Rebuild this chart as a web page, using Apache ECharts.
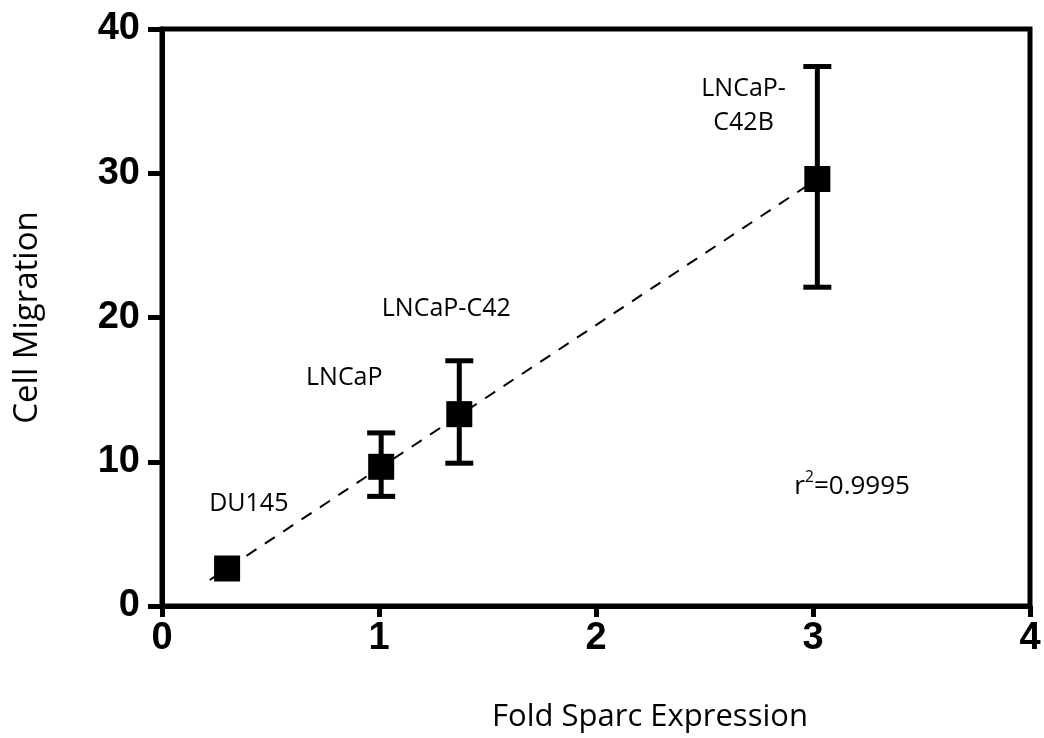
<!DOCTYPE html>
<html><head><meta charset="utf-8">
<script src="https://cdn.jsdelivr.net/npm/echarts@6/dist/echarts.min.js"></script>
<style>html,body{margin:0;padding:0;background:#fff}#c{width:1044px;height:738px}</style>
</head><body><div id="c"></div>
<script>
const names = ['DU145','LNCaP','LNCaP-C42','LNCaP-C42B'];
const foldSparc = [0.30, 1.01, 1.37, 3.02];
const migration = [2.6, 9.65, 13.3, 29.6];
const errLow = [null, 7.6, 9.9, 22.1];
const errHigh = [null, 12.0, 17.0, 37.4];
const fitX = [0.22, 3.02];
const fitY = [1.8, 29.6];
const labelText = ['DU145','LNCaP','LNCaP-C42','LNCaP-\nC42B','{r|r}{sup|2}{r|=0.9995}'];
const labelX = [0.40, 0.84, 1.31, 2.68, 3.18];
const labelY = [7.1, 15.8, 20.6, 34.7, 8.3];
const xTicks = [0,1,2,3,4];
const yTicks = [0,10,20,30,40];

const chart = echarts.init(document.getElementById('c'));
const tickFont = {fontFamily:'Liberation Sans', fontWeight:'bold', fontSize:38, color:'#000'};
chart.setOption({
  animation:false,
  grid:{left:162,right:14,top:29,bottom:132,containLabel:false,outerBoundsMode:'none',
    show:true,borderColor:'#000',borderWidth:5,backgroundColor:'transparent'},
  xAxis:{type:'value',min:0,max:4,interval:1,
    name:'Fold Sparc Expression',nameLocation:'middle',nameGap:96,
    nameTextStyle:{fontFamily:'Open Sans',fontSize:31,color:'#000',padding:[0,0,0,108]},
    axisLine:{lineStyle:{color:'#000',width:5}},
    axisTick:{length:11,lineStyle:{color:'#000',width:5}},
    axisLabel:Object.assign({margin:14},tickFont),
    splitLine:{show:false}},
  yAxis:{type:'value',min:0,max:40,interval:10,
    name:'Cell Migration',nameLocation:'middle',nameGap:118,
    nameTextStyle:{fontFamily:'Open Sans',fontSize:33,color:'#000'},
    axisLine:{lineStyle:{color:'#000',width:5}},
    axisTick:{length:14,lineStyle:{color:'#000',width:5}},
    axisLabel:Object.assign({margin:22},tickFont),
    splitLine:{show:false}},
  series:[
    {type:'line',data:fitX.map((x,i)=>[x,fitY[i]]),symbol:'none',
     lineStyle:{color:'#000',width:2,type:[12,10]},z:1},
    {type:'custom',z:2,
     data:foldSparc.map((x,i)=>[x,errLow[i],errHigh[i]]).filter(d=>d[1]!=null),
     renderItem:function(params,api){
       const x=api.value(0);
       const lo=api.coord([x,api.value(1)]);
       const hi=api.coord([x,api.value(2)]);
       const w=14;
       const st={stroke:'#000',lineWidth:5};
       return {type:'group',children:[
         {type:'line',shape:{x1:lo[0],y1:lo[1],x2:hi[0],y2:hi[1]},style:st},
         {type:'line',shape:{x1:lo[0]-w,y1:lo[1],x2:lo[0]+w,y2:lo[1]},style:st},
         {type:'line',shape:{x1:hi[0]-w,y1:hi[1],x2:hi[0]+w,y2:hi[1]},style:st}
       ]};
     }},
    {type:'scatter',z:3,symbol:'rect',symbolSize:26,
     itemStyle:{color:'#000',opacity:1},
     data:foldSparc.map((x,i)=>({name:names[i],value:[x,migration[i]]}))},
    {type:'scatter',z:4,symbolSize:0,silent:true,itemStyle:{opacity:1,color:'#000'},
     data:labelX.map((x,i)=>({value:[x,labelY[i]],label:{show:true,formatter:labelText[i],position:'inside',
       fontFamily:'Open Sans',fontSize:25,color:'#000',lineHeight:34,align:'center',verticalAlign:'middle',
       rich:{r:{fontFamily:'Open Sans',fontSize:26,color:'#000'},
             sup:{fontFamily:'Open Sans',fontSize:16,color:'#000',verticalAlign:'top',padding:[0,0,12,0]}}}}))}
  ]
});
</script></body></html>
